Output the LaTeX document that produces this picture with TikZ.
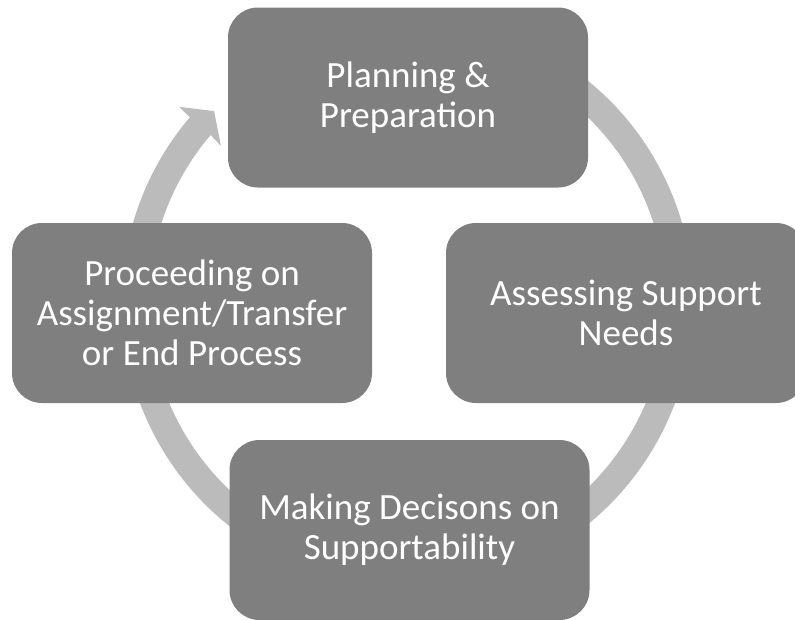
\documentclass[tikz,border=0pt]{standalone}
\usepackage{fontspec}
\setmainfont{Carlito}
\definecolor{boxc}{RGB}{127,127,127}
\definecolor{ringc}{RGB}{187,187,187}
\begin{document}
\begin{tikzpicture}[x=1pt,y=-1pt,
  box/.style={fill=boxc, rounded corners=30pt, minimum width=360pt,
    minimum height=180pt, inner sep=0pt, text=white, align=center,
    font=\fontsize{37}{40}\selectfont}]
\useasboundingbox (0,0) rectangle (795,619);
\clip (0,0) rectangle (795,619);
% circular arrow ring
\fill[ringc, shift={(407.5,302.5)}]
  (110:285.8pt) arc[start angle=110, end angle=-220.4, radius=285.8pt]
  -- (-220.6:300.6pt) -- (-224.7:272.2pt) -- (-220.0:243.5pt)
  -- (-220.4:258.5pt) arc[start angle=-220.4, end angle=110, radius=258.5pt]
  -- cycle;
% boxes
\node[box] (plan) at (408,97.5) {Planning \&\\Preparation};
\node[box] (assess) at (626,313) {Assessing Support\\Needs};
\node[box] (decide) at (409.5,530) {Making Decisons on\\Supportability};
\node[box] (proceed) at (192,313) {Proceeding on\\Assignment/Transfer\\or End Process};
\end{tikzpicture}
\end{document}
